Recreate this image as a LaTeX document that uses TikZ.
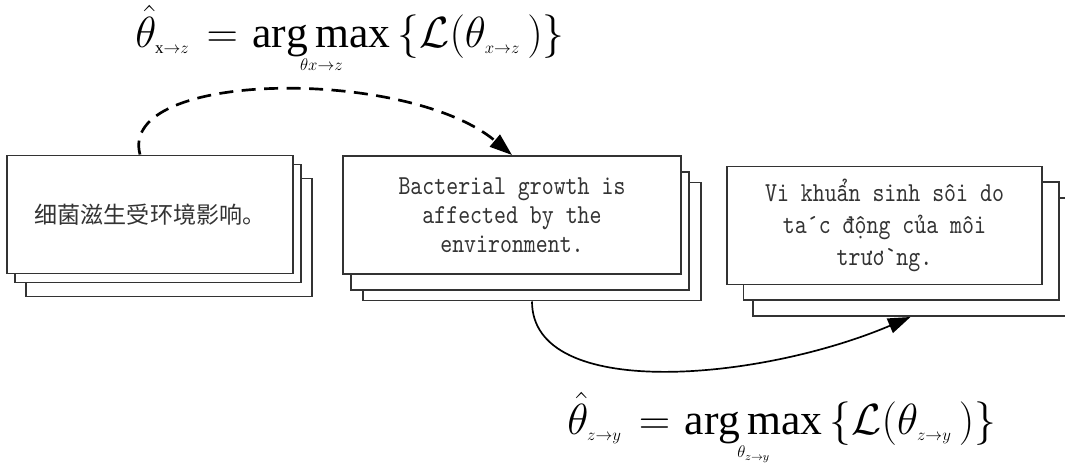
\RequirePackage{fix-cm}
\documentclass[tikz,border=0pt]{standalone}
\usepackage{fontspec}
\setmainfont{Liberation Serif}
\newfontfamily\cjkfont{Noto Sans CJK SC}
\newfontfamily\monofont[FakeStretch=0.83]{lmmono10-regular.otf}
\usetikzlibrary{arrows.meta}
% small sub- and underscripts of the two estimators
\newcommand{\eqsub}[1]{\hbox{\fontsize{12}{12}\selectfont$#1$}}

\begin{document}
\begin{tikzpicture}[
    % card look, stacked three deep
    card/.style={draw=black!80, line width=1.4pt, fill=white, minimum height=2.95cm, inner sep=0pt, text=black!80},
    monoText/.style={font=\monofont\fontsize{19.5}{20.6}\selectfont, align=center},
    cjkText/.style={font=\cjkfont\fontsize{16.4}{20}\selectfont},
    dashFlow/.style={line width=1.9pt, dash pattern=on 10pt off 6pt, -{Triangle[length=16pt, width=11pt]}},
    solidFlow/.style={line width=1.2pt, -{Triangle[length=16pt, width=11pt]}},
    eqn/.style={font=\fontsize{31}{36}\selectfont, inner sep=0pt, anchor=base west}
]
    \useasboundingbox (0,0) rectangle (26.625,-11.8);
    \clip (0,0) rectangle (26.625,-11.8);

    % --- CARD 1: CHINESE SOURCE ---
    \node[card, minimum width=7.15cm] (zhBack) at (4.225,-5.9375) {};
    \node[card, minimum width=7.15cm] (zhMid) at (3.95,-5.5875) {};
    \node[card, minimum width=7.15cm, cjkText] (zhFront) at (3.75,-5.3625) {细菌滋生受环境影响。};

    % --- CARD 2: ENGLISH PIVOT ---
    \node[card, minimum width=8.45cm] (enBack) at (13.3,-6.0375) {};
    \node[card, minimum width=8.45cm] (enMid) at (13.0,-5.775) {};
    \node[card, minimum width=8.45cm, monoText] (enFront) at (12.8,-5.375) {Bacterial growth is\\affected by the\\environment.};

    % --- CARD 3: VIETNAMESE TARGET ---
    \node[card, minimum width=7.875cm] (viBack) at (22.7625,-6.425) {};
    \node[card, minimum width=7.875cm] (viMid) at (22.525,-6.025) {};
    \node[card, minimum width=7.875cm, monoText, font=\monofont\fontsize{19.5}{22.8}\selectfont] (viFront) at (22.1125,-5.6375) {Vi khuẩn sinh sôi do\\ta´c động của môi\\trươ`ng.};

    % --- EQUATIONS ---
    \node[eqn] (eqXZ) at (3.375,-1.175) {$\hat{\theta}_{\eqsub{\mathrm{x}{\rightarrow}z}}\mkern7mu{=}\mkern3mu \mathop{\mathrm{arg\,max}}\limits_{\eqsub{\theta x{\rightarrow}z}} \big\{ \mathcal{L}( \theta_{\eqsub{x{\rightarrow}z}} \,) \big\}$};
    \node[eqn] (eqZY) at (14.175,-10.85) {$\hat{\theta}_{\eqsub{z{\rightarrow}y}}\mkern7mu{=}\mkern3mu \mathop{\mathrm{arg\,max}}\limits_{\eqsub{\theta_{z{\rightarrow}y}}} \big\{ \mathcal{L}( \theta_{\eqsub{z{\rightarrow}y}} \,) \big\}$};

    % --- FLOW ARROWS ---
    \draw[dashFlow] ([xshift=-0.25cm]zhFront.north) to[out=105, in=140, out distance=2.2cm, in distance=3.4cm] (enFront.north);
    \draw[solidFlow] (enBack.south) to[out=-90, in=203, out distance=2.5cm, in distance=4.1cm] (viBack.south);

\end{tikzpicture}
\end{document}
